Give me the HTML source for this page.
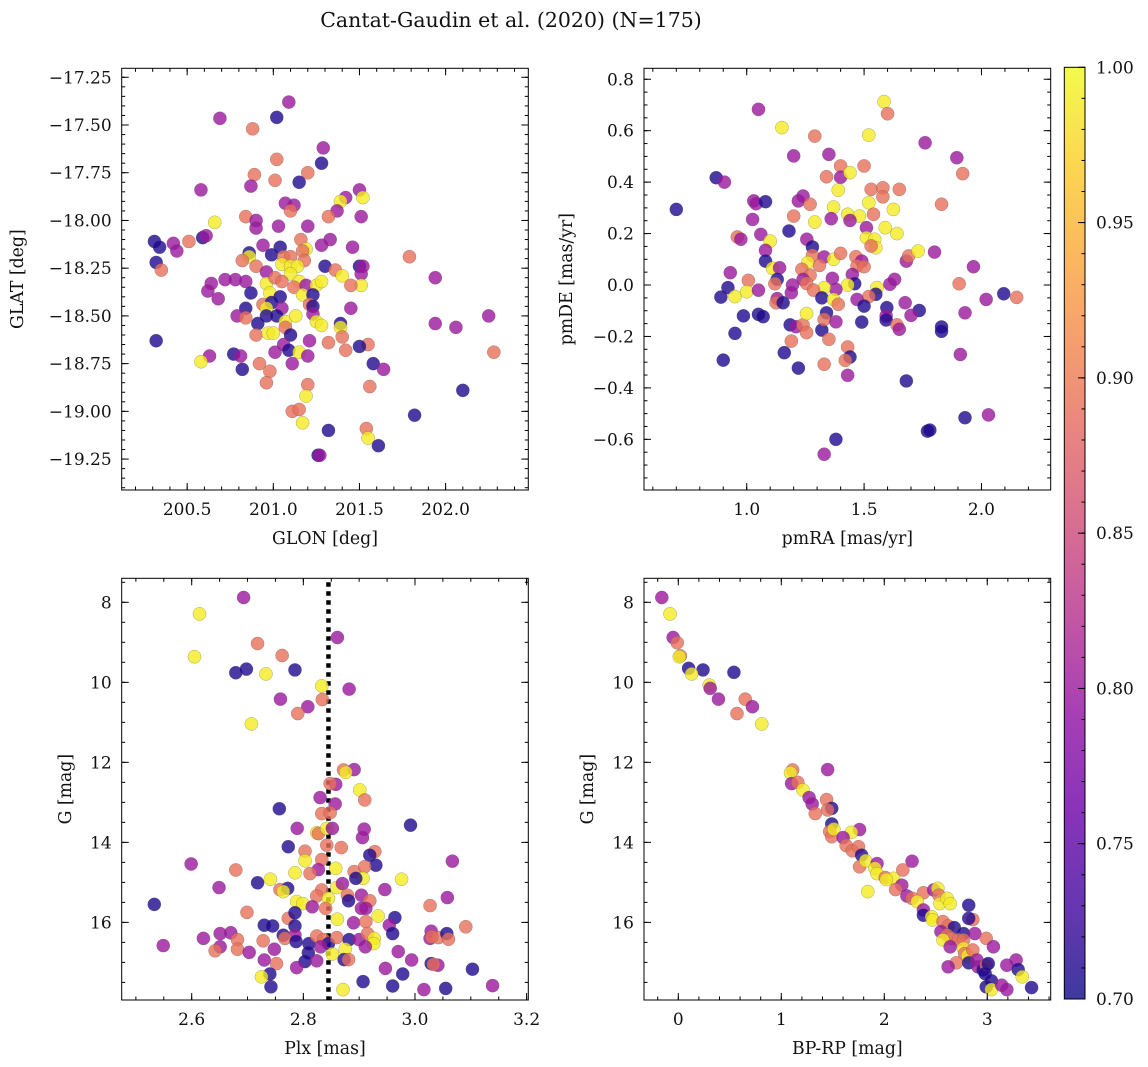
<!DOCTYPE html>
<html><head><meta charset="utf-8"><title>Cantat-Gaudin et al. (2020)</title>
<style>
html,body{margin:0;padding:0;background:#fff;}
svg{display:block;font-family:"DejaVu Serif","Liberation Serif",serif;}
</style></head>
<body>
<svg id="fig" width="1148" height="1067" viewBox="0 0 1148 1067" xmlns="http://www.w3.org/2000/svg">
<rect x="0" y="0" width="1148" height="1067" fill="#fff"/>
<text x="511" y="27" font-size="20.5" text-anchor="middle" fill="#111">Cantat-Gaudin et al. (2020) (N=175)</text>
<g id="layer"></g>
</svg>
<script>
// ---------- Panel 1: GLON / GLAT ----------
const glon1 = [201.09,200.69,201.02,200.88,201.29,201.28,201.02,201.20,200.89,201.15,201.01,200.87,200.58,201.50,201.42,201.39,201.52,201.07,201.12,201.10,201.37,201.32,201.51,200.84,200.90,200.90,201.03,201.20,200.66,200.31,200.34,200.42,200.44,200.51,200.59,200.61,200.32,200.35,200.94,201.04,200.99,201.16,201.19,201.17,201.18,201.28,201.33,201.46,200.86,200.86,200.82,200.90,201.06,201.10,201.05,201.10,201.14,201.10,201.30,201.36,201.40,201.50,201.52,201.51,201.51,201.45,201.79,201.94,200.96,200.96,201.01,201.05,201.15,201.12,201.19,201.25,201.28,200.72,200.78,200.84,200.64,200.62,200.68,200.87,200.98,201.04,201.17,201.23,200.94,201.21,200.99,200.84,201.23,200.96,201.05,201.45,200.96,201.02,201.07,201.13,201.23,201.25,201.28,201.39,201.39,200.79,200.84,200.91,201.07,200.90,200.97,201.00,201.10,201.21,201.32,201.40,201.42,201.55,201.50,200.32,201.01,201.06,201.09,201.15,201.20,201.11,200.63,200.58,200.77,200.81,200.82,200.92,200.98,201.58,201.64,201.94,202.06,202.25,202.28,200.96,201.20,201.56,201.19,201.11,201.15,201.17,201.32,201.54,201.55,201.61,201.82,202.10,201.26,201.27];
const glat1 = [-17.38,-17.465,-17.46,-17.52,-17.62,-17.70,-17.68,-17.75,-17.76,-17.80,-17.79,-17.82,-17.84,-17.84,-17.88,-17.90,-17.88,-17.91,-17.92,-17.95,-17.95,-17.98,-17.98,-17.98,-18.00,-18.04,-18.03,-18.03,-18.01,-18.11,-18.14,-18.12,-18.16,-18.11,-18.09,-18.08,-18.22,-18.26,-18.13,-18.14,-18.18,-18.10,-18.15,-18.16,-18.21,-18.13,-18.10,-18.14,-18.17,-18.19,-18.21,-18.24,-18.19,-18.19,-18.23,-18.24,-18.24,-18.28,-18.24,-18.26,-18.29,-18.24,-18.24,-18.28,-18.34,-18.34,-18.19,-18.30,-18.27,-18.33,-18.30,-18.32,-18.32,-18.35,-18.34,-18.34,-18.32,-18.31,-18.31,-18.32,-18.33,-18.37,-18.41,-18.38,-18.38,-18.40,-18.39,-18.39,-18.44,-18.44,-18.43,-18.46,-18.45,-18.46,-18.46,-18.46,-18.50,-18.50,-18.53,-18.50,-18.49,-18.53,-18.55,-18.54,-18.56,-18.50,-18.51,-18.54,-18.56,-18.60,-18.59,-18.59,-18.60,-18.63,-18.64,-18.61,-18.68,-18.65,-18.66,-18.63,-18.69,-18.65,-18.68,-18.69,-18.71,-18.75,-18.71,-18.74,-18.70,-18.71,-18.78,-18.75,-18.79,-18.75,-18.78,-18.54,-18.56,-18.50,-18.69,-18.85,-18.86,-18.87,-18.92,-19.00,-18.99,-19.06,-19.10,-19.09,-19.14,-19.18,-19.02,-18.89,-19.23,-19.23];
const prob1 = [0.80,0.80,0.71,0.89,0.80,0.71,0.89,0.89,0.89,0.71,0.89,0.80,0.80,0.80,0.80,0.99,0.99,0.80,0.80,0.89,0.80,0.89,0.80,0.89,0.80,0.80,0.80,0.80,0.99,0.71,0.71,0.80,0.80,0.89,0.71,0.80,0.71,0.89,0.80,0.71,0.71,0.89,0.99,0.89,0.89,0.80,0.80,0.80,0.71,0.99,0.89,0.89,0.89,0.89,0.99,0.99,0.99,0.99,0.71,0.89,0.99,0.71,0.80,0.80,0.99,0.89,0.89,0.80,0.80,0.99,0.89,0.89,0.99,0.89,0.80,0.99,0.99,0.80,0.80,0.80,0.80,0.80,0.80,0.71,0.99,0.71,0.99,0.71,0.89,0.89,0.71,0.71,0.71,0.99,0.80,0.80,0.71,0.71,0.99,0.99,0.80,0.99,0.99,0.71,0.99,0.80,0.89,0.71,0.89,0.89,0.99,0.99,0.71,0.80,0.89,0.89,0.89,0.89,0.71,0.71,0.80,0.80,0.71,0.99,0.80,0.80,0.80,0.99,0.71,0.80,0.71,0.89,0.89,0.71,0.80,0.80,0.80,0.80,0.89,0.89,0.89,0.89,0.99,0.89,0.89,0.99,0.71,0.89,0.99,0.71,0.71,0.71,0.71,0.80];

// ---------- Panel 2: pmRA / pmDE ----------
const pmra2 = [1.585,1.60,1.05,1.15,1.29,1.52,1.76,1.895,1.92,1.20,1.35,1.40,1.50,1.34,1.40,1.44,0.87,0.905,0.70,1.39,1.53,1.58,1.58,1.65,1.83,1.03,1.04,1.08,1.22,1.24,1.27,1.37,1.52,1.625,1.20,1.025,1.29,1.36,1.43,1.48,1.44,1.54,1.59,1.64,1.51,1.51,1.545,1.55,1.53,1.18,1.06,0.96,0.975,1.10,1.256,1.28,1.08,1.08,1.11,1.14,1.13,1.28,1.33,1.26,1.31,1.235,1.27,1.24,1.255,1.37,1.40,1.465,1.49,1.47,1.50,1.45,1.46,1.43,1.365,1.38,1.33,1.285,1.32,1.37,1.39,1.195,1.19,0.93,1.007,0.92,0.89,0.95,1.00,1.05,1.12,1.13,1.125,1.155,1.555,1.55,1.52,1.47,1.50,1.61,1.63,1.68,1.69,1.73,1.80,1.966,1.905,2.095,2.15,2.02,1.93,1.675,1.735,1.70,1.597,1.594,1.594,1.64,1.65,1.83,1.83,1.49,0.986,1.05,1.07,0.95,0.90,1.185,1.21,1.24,1.255,1.32,1.34,1.33,1.38,1.255,1.35,1.19,1.16,1.22,1.33,1.43,1.44,1.42,1.43,1.68,1.91,1.93,2.03,1.77,1.78,1.38,1.33];
const pmde2 = [0.713,0.666,0.683,0.612,0.579,0.583,0.553,0.495,0.433,0.502,0.508,0.463,0.463,0.421,0.419,0.437,0.417,0.40,0.294,0.369,0.372,0.378,0.343,0.372,0.314,0.327,0.316,0.324,0.327,0.346,0.314,0.303,0.32,0.294,0.268,0.255,0.245,0.258,0.275,0.268,0.251,0.275,0.223,0.20,0.223,0.184,0.178,0.145,0.152,0.21,0.197,0.187,0.178,0.171,0.178,0.148,0.135,0.093,0.065,0.067,0.022,0.115,0.109,0.087,0.076,0.061,0.038,0.022,0.006,0.10,0.123,0.11,0.093,0.074,0.071,0.041,0.005,0.0,0.026,-0.017,-0.01,-0.02,-0.05,-0.056,-0.075,0.0,-0.03,0.048,0.018,-0.01,-0.047,-0.045,-0.026,-0.02,0.005,-0.053,-0.069,-0.069,-0.01,-0.036,-0.045,-0.056,-0.082,0.003,0.022,0.093,0.113,0.132,0.128,0.071,0.005,-0.034,-0.048,-0.056,-0.108,-0.069,-0.099,-0.118,-0.088,-0.12,-0.136,-0.155,-0.172,-0.163,-0.18,-0.144,-0.12,-0.114,-0.123,-0.188,-0.292,-0.155,-0.162,-0.155,-0.185,-0.175,-0.108,-0.134,-0.143,-0.111,-0.211,-0.218,-0.263,-0.323,-0.308,-0.241,-0.28,-0.293,-0.351,-0.373,-0.27,-0.516,-0.505,-0.568,-0.564,-0.60,-0.658];
const prob2 = [0.99,0.89,0.80,0.99,0.89,0.99,0.80,0.80,0.89,0.80,0.80,0.89,0.89,0.89,0.80,0.99,0.71,0.80,0.71,0.99,0.89,0.89,0.89,0.89,0.89,0.80,0.80,0.71,0.80,0.80,0.89,0.99,0.99,0.99,0.89,0.80,0.99,0.80,0.99,0.99,0.80,0.89,0.99,0.99,0.80,0.99,0.99,0.99,0.89,0.71,0.80,0.89,0.80,0.99,0.80,0.71,0.80,0.71,0.99,0.80,0.71,0.89,0.80,0.99,0.89,0.89,0.89,0.80,0.89,0.99,0.89,0.89,0.80,0.89,0.89,0.80,0.71,0.99,0.80,0.80,0.99,0.89,0.71,0.99,0.89,0.80,0.80,0.80,0.89,0.71,0.71,0.99,0.99,0.80,0.89,0.80,0.89,0.71,0.99,0.71,0.89,0.80,0.71,0.80,0.80,0.80,0.89,0.99,0.80,0.80,0.89,0.71,0.89,0.80,0.80,0.80,0.71,0.80,0.71,0.80,0.71,0.89,0.80,0.71,0.71,0.71,0.71,0.71,0.71,0.71,0.71,0.71,0.80,0.89,0.89,0.71,0.71,0.89,0.80,0.99,0.89,0.89,0.71,0.71,0.89,0.89,0.71,0.89,0.80,0.71,0.80,0.71,0.80,0.71,0.71,0.71,0.80];

// ---------- Panel 3: Plx / G ----------
const plx3 = [2.693,2.614,2.605,2.718,2.762,2.861,2.679,2.698,2.733,2.785,2.833,2.882,2.759,2.834,2.808,2.79,2.707,2.872,2.891,2.876,2.858,2.848,2.901,2.91,2.83,2.857,2.833,2.848,2.757,2.992,2.789,2.824,2.827,2.842,2.852,2.909,2.906,2.773,2.803,2.842,2.868,2.928,2.919,2.93,3.067,2.599,2.679,2.803,2.833,2.827,2.858,2.785,2.812,2.891,2.91,2.907,2.894,2.976,2.741,2.718,2.649,2.758,2.772,2.764,2.833,2.86,2.87,2.879,2.904,2.946,2.824,2.845,2.788,2.799,2.881,2.919,2.816,2.84,2.904,2.912,3.027,3.058,2.533,2.699,2.773,2.785,2.861,2.89,2.912,2.934,2.964,2.954,2.96,2.73,2.745,2.785,2.764,2.785,2.767,2.787,2.81,2.824,2.836,2.845,2.86,2.882,2.9,2.915,2.927,2.926,2.911,2.97,2.994,2.875,2.852,2.831,2.809,2.803,2.824,2.873,2.881,2.748,2.73,2.752,2.788,2.74,2.725,2.742,2.907,2.871,2.947,2.978,2.96,3.029,3.041,3.033,3.016,3.055,3.103,3.139,3.027,3.029,3.042,3.057,3.06,3.03,3.091,2.549,2.621,2.651,2.67,2.651,2.642,2.682,2.682,2.703,2.728];
const gmag3 = [7.88,8.29,9.36,9.03,9.33,8.88,9.76,9.67,9.79,9.69,10.09,10.17,10.42,10.43,10.61,10.78,11.04,12.19,12.18,12.25,12.55,12.53,12.69,12.94,12.88,13.04,13.28,13.26,13.16,13.57,13.65,13.76,13.78,13.65,13.65,13.67,13.88,14.11,14.22,14.07,14.13,14.23,14.32,14.57,14.47,14.54,14.69,14.46,14.43,14.68,14.65,14.76,14.78,14.73,14.61,14.9,14.9,14.92,14.92,15.01,15.13,15.18,15.15,15.23,15.19,15.13,15.03,15.32,15.32,15.18,15.34,15.4,15.48,15.53,15.46,15.46,15.61,15.65,15.65,15.65,15.58,15.38,15.55,15.75,15.9,15.76,15.92,16.01,15.98,15.84,15.88,16.07,16.28,16.07,16.09,16.09,16.32,16.32,16.4,16.48,16.53,16.34,16.43,16.53,16.38,16.43,16.43,16.28,16.4,16.53,16.61,16.73,16.94,16.67,16.79,16.61,16.76,16.98,16.96,16.93,16.93,16.67,16.94,17.03,17.13,17.29,17.36,17.61,17.48,17.68,17.15,17.29,17.59,17.03,17.07,17.05,17.68,17.65,17.17,17.58,16.4,16.22,16.38,16.28,16.42,16.36,16.11,16.58,16.4,16.28,16.26,16.61,16.71,16.43,16.67,16.75,16.46];
const prob3 = [0.80,0.99,0.99,0.89,0.89,0.80,0.71,0.71,0.99,0.71,0.99,0.80,0.80,0.89,0.80,0.89,0.99,0.89,0.80,0.99,0.80,0.89,0.99,0.89,0.80,0.80,0.89,0.89,0.71,0.71,0.80,0.99,0.89,0.99,0.80,0.80,0.80,0.71,0.89,0.89,0.89,0.89,0.71,0.71,0.80,0.80,0.89,0.99,0.89,0.80,0.99,0.99,0.89,0.89,0.89,0.99,0.71,0.99,0.99,0.71,0.80,0.89,0.71,0.99,0.89,0.99,0.80,0.89,0.80,0.80,0.89,0.99,0.99,0.99,0.71,0.89,0.80,0.89,0.80,0.80,0.89,0.80,0.71,0.89,0.89,0.71,0.99,0.80,0.89,0.99,0.71,0.80,0.71,0.71,0.71,0.71,0.71,0.80,0.89,0.71,0.71,0.89,0.89,0.71,0.89,0.71,0.80,0.89,0.99,0.99,0.80,0.80,0.80,0.99,0.99,0.80,0.71,0.71,0.80,0.71,0.89,0.80,0.80,0.89,0.80,0.71,0.99,0.71,0.71,0.99,0.80,0.71,0.71,0.71,0.80,0.89,0.80,0.71,0.71,0.80,0.80,0.80,0.89,0.71,0.89,0.89,0.89,0.80,0.80,0.80,0.80,0.80,0.89,0.89,0.89,0.80,0.89];
const plxMean = 2.845;

// ---------- Panel 4: BP-RP / G ----------
const bprp4 = [-0.16,-0.08,-0.05,-0.01,0.02,0.01,0.10,0.24,0.13,0.54,0.30,0.31,0.39,0.65,0.72,0.57,0.81,1.11,1.09,1.45,1.10,1.16,1.21,1.27,1.30,1.44,1.49,1.45,1.33,1.49,1.47,1.49,1.51,1.76,1.68,1.60,1.63,1.69,1.75,1.78,1.76,1.82,1.93,1.91,1.93,2.01,2.09,2.02,2.18,2.27,2.17,2.11,2.22,2.27,2.38,2.32,2.38,2.38,2.48,2.52,2.53,2.54,2.61,2.64,2.46,2.47,1.84,2.57,2.62,2.68,2.55,2.61,2.65,2.57,2.77,2.72,2.77,2.82,2.86,2.82,2.88,2.64,2.77,2.78,2.81,2.86,2.99,3.06,2.70,2.62,2.82,2.90,2.91,2.96,2.99,3.01,2.98,3.04,2.99,3.04,3.14,3.19,3.19,3.28,3.30,3.34,3.43];
const gmag4 = [7.88,8.29,8.88,9.01,9.34,9.36,9.65,9.69,9.79,9.75,10.07,10.15,10.42,10.42,10.61,10.78,11.04,12.19,12.26,12.18,12.53,12.5,12.69,12.88,13.04,12.93,13.15,13.19,13.28,13.54,13.73,13.86,13.67,13.68,13.75,13.88,14.08,14.21,14.11,14.32,14.61,14.46,14.53,14.65,14.78,14.88,14.9,14.93,14.69,14.47,15.07,15.18,15.34,15.4,15.26,15.48,15.69,15.82,15.19,15.15,15.32,15.53,15.4,15.53,15.86,15.94,15.23,15.98,16.09,16.13,16.23,16.32,16.4,16.44,16.28,16.44,16.44,15.57,15.93,15.9,16.28,16.61,16.65,16.78,16.84,16.69,16.4,16.61,17.01,17.11,17.01,16.94,17.11,17.19,17.07,17.03,17.28,17.46,17.61,17.68,17.57,17.68,17.07,16.94,17.18,17.36,17.63];
const prob4 = [0.80,0.99,0.80,0.89,0.89,0.99,0.71,0.71,0.99,0.71,0.99,0.80,0.80,0.89,0.80,0.89,0.99,0.89,0.99,0.80,0.80,0.89,0.99,0.80,0.80,0.89,0.71,0.89,0.89,0.71,0.89,0.89,0.99,0.80,0.99,0.80,0.89,0.89,0.89,0.71,0.89,0.99,0.80,0.99,0.99,0.89,0.99,0.99,0.89,0.80,0.80,0.89,0.80,0.89,0.89,0.99,0.80,0.71,0.80,0.99,0.89,0.99,0.99,0.99,0.99,0.99,0.99,0.89,0.89,0.71,0.80,0.89,0.89,0.99,0.71,0.89,0.89,0.71,0.89,0.71,0.80,0.80,0.99,0.89,0.99,0.89,0.89,0.80,0.89,0.80,0.71,0.80,0.80,0.71,0.89,0.71,0.71,0.71,0.71,0.99,0.80,0.80,0.80,0.80,0.71,0.99,0.71];

// ---------- Tick labels ----------
const xTicks1 = [200.5,201.0,201.5,202.0];
const xTickLabels1 = ["200.5","201.0","201.5","202.0"];
const yTicks1 = [-17.25,-17.5,-17.75,-18.0,-18.25,-18.5,-18.75,-19.0,-19.25];
const yTickLabels1 = ["\u221217.25","\u221217.50","\u221217.75","\u221218.00","\u221218.25","\u221218.50","\u221218.75","\u221219.00","\u221219.25"];
const xTicks2 = [1.0,1.5,2.0];
const xTickLabels2 = ["1.0","1.5","2.0"];
const yTicks2 = [0.8,0.6,0.4,0.2,0.0,-0.2,-0.4,-0.6];
const yTickLabels2 = ["0.8","0.6","0.4","0.2","0.0","\u22120.2","\u22120.4","\u22120.6"];
const xTicks3 = [2.6,2.8,3.0,3.2];
const xTickLabels3 = ["2.6","2.8","3.0","3.2"];
const yTicksG = [8,10,12,14,16];
const yTickLabelsG = ["8","10","12","14","16"];
const xTicks4 = [0,1,2,3];
const xTickLabels4 = ["0","1","2","3"];
const cbTicks = [1.00,0.95,0.90,0.85,0.80,0.75,0.70];
const cbTickLabels = ["1.00","0.95","0.90","0.85","0.80","0.75","0.70"];

const FS = 17;
const TFS = 17.3;
const NS = "http://www.w3.org/2000/svg";
const layer = document.getElementById("layer");
function mk(tag, attrs, parent){
  const e = document.createElementNS(NS, tag);
  for (const k in attrs) e.setAttribute(k, attrs[k]);
  (parent||layer).appendChild(e);
  return e;
}
const plasmaStops = [[0.0,[13,8,135]],[0.1,[65,4,157]],[0.2,[106,0,168]],[0.3,[143,13,164]],[0.4,[177,42,144]],[0.5,[204,71,120]],[0.6,[225,100,98]],[0.7,[242,132,75]],[0.8,[252,166,54]],[0.9,[252,206,37]],[1.0,[240,249,33]]];
function plasma(t){
  t = Math.max(0, Math.min(1, t));
  for (let i=0;i<plasmaStops.length-1;i++){
    const a=plasmaStops[i], b=plasmaStops[i+1];
    if (t<=b[0]){
      const f=(t-a[0])/(b[0]-a[0]);
      const c=a[1].map((v,j)=>Math.round(v+(b[1][j]-v)*f));
      return "rgb("+c.join(",")+")";
    }
  }
  return "rgb(240,249,33)";
}
const VMIN=0.70, VMAX=1.00;

function makeAxis(cfg){
  const sx = v => cfg.x0 + (v-cfg.xmin)/(cfg.xmax-cfg.xmin)*(cfg.x1-cfg.x0);
  const sy = cfg.yinv
    ? v => cfg.y0 + (v-cfg.ymin)/(cfg.ymax-cfg.ymin)*(cfg.y1-cfg.y0)
    : v => cfg.y1 - (v-cfg.ymin)/(cfg.ymax-cfg.ymin)*(cfg.y1-cfg.y0);
  return {sx, sy};
}

function drawPanel(cfg, xs, ys, ps, name){
  const ax = makeAxis(cfg);
  const g = mk("g", {});
  
  
  const clipId = name + "-clip";
  const cp = mk("clipPath", {id: clipId}, g);
  mk("rect", {x:cfg.x0, y:cfg.y0, width:cfg.x1-cfg.x0, height:cfg.y1-cfg.y0}, cp);
  const pts = mk("g", {"clip-path":"url(#"+clipId+")"}, g);
  
  
  if (cfg.vline !== undefined){
    const vx = ax.sx(cfg.vline);
    const ln = mk("line", {x1:vx, y1:cfg.y0+4, x2:vx, y2:cfg.y1, stroke:"#000", "stroke-width":4.5, "stroke-dasharray":"4.5 4.5"}, pts);
    
    
  }
  for (let i=0;i<xs.length;i++){
    const c = mk("circle", {cx:ax.sx(xs[i]), cy:ax.sy(ys[i]), r:6.6,
      fill:plasma((ps[i]-VMIN)/(VMAX-VMIN)), "fill-opacity":0.8, stroke:"#555", "stroke-width":0.4, "stroke-opacity":0.6}, pts);
    
    
  }
  const fr = mk("rect", {x:cfg.x0, y:cfg.y0, width:cfg.x1-cfg.x0, height:cfg.y1-cfg.y0, fill:"none", stroke:"#000", "stroke-width":1}, g);
  
  
  const tk = mk("g", {stroke:"#000", "stroke-width":1}, g);
  for (let v=Math.ceil(cfg.xmin/cfg.xminor-1e-9)*cfg.xminor; v<=cfg.xmax+1e-9; v+=cfg.xminor){
    const x=ax.sx(v);
    mk("line",{x1:x,y1:cfg.y1,x2:x,y2:cfg.y1-3.5},tk); mk("line",{x1:x,y1:cfg.y0,x2:x,y2:cfg.y0+3.5},tk);
  }
  for (let v=Math.ceil(cfg.ymin/cfg.yminor-1e-9)*cfg.yminor; v<=cfg.ymax+1e-9; v+=cfg.yminor){
    const y=ax.sy(v);
    mk("line",{x1:cfg.x0,y1:y,x2:cfg.x0+3.5,y2:y},tk); mk("line",{x1:cfg.x1,y1:y,x2:cfg.x1-3.5,y2:y},tk);
  }
  cfg.xt.forEach((v,i)=>{
    const x=ax.sx(v);
    mk("line",{x1:x,y1:cfg.y1,x2:x,y2:cfg.y1-7},tk); mk("line",{x1:x,y1:cfg.y0,x2:x,y2:cfg.y0+7},tk);
    const t=mk("text",{x:x,y:cfg.y1+25,"font-size":FS,"text-anchor":"middle",fill:"#111"},g);
    t.textContent=cfg.xl[i];
    
    
  });
  cfg.yt.forEach((v,i)=>{
    const y=ax.sy(v);
    mk("line",{x1:cfg.x0,y1:y,x2:cfg.x0+7,y2:y},tk); mk("line",{x1:cfg.x1,y1:y,x2:cfg.x1-7,y2:y},tk);
    const t=mk("text",{x:cfg.x0-10,y:y+6,"font-size":FS,"text-anchor":"end",fill:"#111"},g);
    t.textContent=cfg.yl[i];
    
    
  });
  const xt=mk("text",{x:(cfg.x0+cfg.x1)/2,y:cfg.y1+54,"font-size":TFS,"text-anchor":"middle",fill:"#111"},g);
  xt.textContent=cfg.xtitle;
  
  
  const yy=(cfg.y0+cfg.y1)/2;
  const yt=mk("text",{x:cfg.ytx,y:yy,"font-size":TFS,"text-anchor":"middle",fill:"#111",transform:"rotate(-90 "+cfg.ytx+" "+yy+")"},g);
  yt.textContent=cfg.ytitle;
  
  
}

drawPanel({x0:121.7,x1:528.3,y0:68.3,y1:490,xmin:200.12,xmax:202.48,ymin:-19.412,ymax:-17.203,
  xminor:0.1,yminor:0.05,xt:xTicks1,xl:xTickLabels1,yt:yTicks1,yl:yTickLabels1,
  xtitle:"GLON [deg]",ytitle:"GLAT [deg]",ytx:23}, glon1, glat1, prob1, "sky");
drawPanel({x0:644,x1:1050.7,y0:68.3,y1:490,xmin:0.5624,xmax:2.295,ymin:-0.797,ymax:0.8426,
  xminor:0.1,yminor:0.05,xt:xTicks2,xl:xTickLabels2,yt:yTicks2,yl:yTickLabels2,
  xtitle:"pmRA [mas/yr]",ytitle:"pmDE [mas/yr]",ytx:572}, pmra2, pmde2, prob2, "proper-motion");
drawPanel({x0:121.7,x1:528.3,y0:578.3,y1:1000,xmin:2.4746,xmax:3.203,ymin:7.4,ymax:17.94,yinv:true,
  xminor:0.05,yminor:0.5,xt:xTicks3,xl:xTickLabels3,yt:yTicksG,yl:yTickLabelsG,vline:plxMean,
  xtitle:"Plx [mas]",ytitle:"G [mag]",ytx:71}, plx3, gmag3, prob3, "parallax");
drawPanel({x0:644,x1:1050.7,y0:578.3,y1:1000,xmin:-0.333,xmax:3.616,ymin:7.4,ymax:17.94,yinv:true,
  xminor:0.2,yminor:0.5,xt:xTicks4,xl:xTickLabels4,yt:yTicksG,yl:yTickLabelsG,
  xtitle:"BP-RP [mag]",ytitle:"G [mag]",ytx:593}, bprp4, gmag4, prob4, "cmd");

(function(){
  const cx0=1064.3, cx1=1085, cy0=67.3, cy1=999;
  const cbY = v => cy1 - (v-VMIN)/(VMAX-VMIN)*(cy1-cy0);
  const cb = mk("g", {});
  
  
  const defs = mk("defs", {}, cb);
  const lg = mk("linearGradient", {id:"cbgrad", x1:0, y1:1, x2:0, y2:0}, defs);
  for (let i=0;i<=20;i++){
    mk("stop", {offset:(i/20), "stop-color":plasma(i/20)}, lg);
  }
  const r = mk("rect", {x:cx0, y:cy0, width:cx1-cx0, height:cy1-cy0, fill:"url(#cbgrad)", "fill-opacity":0.8, stroke:"#000", "stroke-width":1}, cb);
  
  
  for (let v=0.70; v<=1.0001; v+=0.01){
    const y=cbY(v);
    mk("line",{x1:cx1,y1:y,x2:cx1-3.5,y2:y,stroke:"#000","stroke-width":1},cb);
  }
  cbTicks.forEach((v,i)=>{
    const y=cbY(v);
    mk("line",{x1:cx1-7,y1:y,x2:cx1,y2:y,stroke:"#000","stroke-width":1},cb);
    const t=mk("text",{x:cx1+11,y:y+6,"font-size":FS,fill:"#111"},cb);
    t.textContent=cbTickLabels[i];
    
    
  });
})();
</script>
</body></html>
